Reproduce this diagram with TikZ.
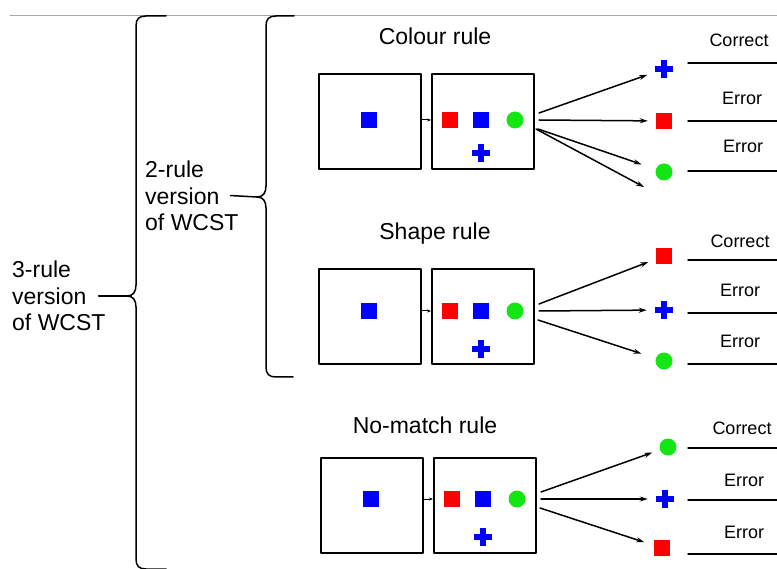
\documentclass[tikz,border=0pt]{standalone}
\usepackage{fontspec}
\setmainfont{Liberation Sans}
\usetikzlibrary{arrows.meta}
\definecolor{mauXanh}{RGB}{0,0,255}
\definecolor{mauDo}{RGB}{255,0,0}
\definecolor{mauLa}{RGB}{20,230,20}
\begin{document}
\begin{tikzpicture}[x=1pt, y=-1pt, line join=round, line cap=round, >={Stealth[length=8pt,width=5pt]},
	khung/.style={draw, line width=1.6pt, minimum width=102pt, minimum height=95pt, inner sep=0},
	vuong/.style={fill=#1, minimum size=16pt, inner sep=0},
	tron/.style={fill=mauLa, circle, minimum size=17pt, inner sep=0},
	cong/.style={minimum size=18pt, inner sep=0, path picture={
		\fill[mauXanh] ([xshift=-9pt,yshift=-3pt]path picture bounding box.center) rectangle ++(18pt,6pt);
		\fill[mauXanh] ([xshift=-3pt,yshift=-9pt]path picture bounding box.center) rectangle ++(6pt,18pt);}},
	tieude/.style={font=\fontsize{23}{26}\selectfont, anchor=base},
	nhan/.style={font=\fontsize{18}{20}\selectfont, anchor=base},
	chu/.style={font=\fontsize{23}{26.5}\selectfont, align=left, anchor=west, inner sep=0},
	muiten/.style={->, line width=1.5pt, shorten >=#1},
	muiten/.default=8pt]
	\useasboundingbox (0,0) rectangle (777,569); % khung hinh
	\draw[gray!70, line width=0.8pt] (10,15)--(777,15); % duong ke tren
	% ngoac lon
	\coordinate (dinh3) at (127,296);
	\coordinate (dinh2) at (257,197);
	\draw[line width=1.5pt] (166,16)--(146,16) .. controls (139,16) and (136,19) .. (136,26)--(136,285) .. controls (136,292) and (133,296) .. (dinh3) .. controls (133,296) and (136,300) .. (136,307)--(136,559) .. controls (136,566) and (139,569) .. (146,569)--(166,569);
	\draw[line width=1.5pt] (294,16)--(276,16) .. controls (269,16) and (266,19) .. (266,26)--(266,186) .. controls (266,193) and (263,197) .. (dinh2) .. controls (263,197) and (266,201) .. (266,208)--(266,367) .. controls (266,374) and (269,377) .. (276,377)--(293,377);
	\node[chu] (ba) at (12,296) {3-rule\\version\\of WCST};
	\node[chu] (hai) at (145,196) {2-rule\\version\\of WCST};
	\draw[line width=1.5pt, shorten <=-7pt] (ba.east)--(dinh3);
	\draw[line width=1.5pt, shorten <=-8pt] (hai.east)--(dinh2);
	% tieu de
	\node[tieude] (t73) at (435,45) {Colour rule};
	\node[tieude] (t268) at (435,240) {Shape rule};
	\node[tieude] (t457) at (425,434) {No-match rule};
	% hai khung the bai
	\foreach \yt/\yh/\yp/\dx in {73/120/153/0, 268/311/349/0, 457/499/537/2} {
		\node[khung, anchor=north west] (k1-\yt) at (318+\dx,\yt) {};
		\node[khung, anchor=north west] (k2-\yt) at (431+\dx,\yt) {};
		\node[vuong=mauXanh] (m0-\yt) at (369+\dx,\yh) {};
		\node[vuong=mauDo] (m1-\yt) at (450+\dx,\yh) {};
		\node[vuong=mauXanh] (m2-\yt) at (481+\dx,\yh) {};
		\node[tron] (m3-\yt) at (515+\dx,\yh) {};
		\node[cong] (m4-\yt) at (481+\dx,\yp) {};
		\draw[line width=1pt, -{Stealth[length=4pt,width=3pt]}] (k1-\yt.east |- m0-\yt)--(k2-\yt.west |- m0-\yt);
		\coordinate (o1-\yt) at (539+\dx,\yh-7);
		\coordinate (o2-\yt) at (539+\dx,\yh);
		\coordinate (o3-\yt) at (538+\dx,\yh+9);
	}
	% dich
	\node[cong] (d1-73) at (664,69) {};
	\node[vuong=mauDo] (d2-73) at (664,121) {};
	\node[tron] (d3-73) at (664,172) {};
	\node[vuong=mauDo] (d1-268) at (664,256) {};
	\node[cong] (d2-268) at (664,310) {};
	\node[tron] (d3-268) at (664,361) {};
	\node[tron] (d1-457) at (668,447) {};
	\node[cong] (d2-457) at (665,499) {};
	\node[vuong=mauDo] (d3-457) at (662,548) {};
	\foreach \yt in {73,268,457} {
		\draw[muiten] (o1-\yt)--(d1-\yt);
		\draw[muiten] (o2-\yt)--(d2-\yt);
	}
	\draw[muiten=15pt] (o3-73)--(d3-73);
	\draw[muiten=15pt] (o3-268)--(d3-268);
	\draw[muiten=10pt] (o3-457)--(d3-457);
	\coordinate (du) at (644,187);
	\draw[muiten=0pt] ([xshift=-2pt]o3-73)--(du);
	% ket qua
	\foreach \y in {63,121,171,260,313,364,448,500,554}
	\draw[line width=1.5pt] (688,\y)--(777,\y);
	\foreach \x/\y/\kq in {739/47/Correct, 742/105/Error, 743/153/Error, 740/248/Correct, 740/297/Error, 740/348/Error, 742/435/Correct, 744/486/Error, 744/538/Error}
	\node[nhan] (n\y) at (\x,\y) {\kq};
\end{tikzpicture}
\end{document}
